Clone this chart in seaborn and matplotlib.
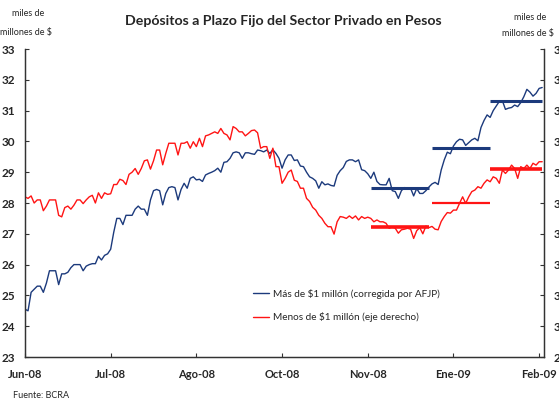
import numpy as np
import pandas as pd
import matplotlib
matplotlib.use("Agg")
import matplotlib.pyplot as plt
import seaborn as sns

# === DATA (miles de millones de $), one value per business day ===
tick_labels = ["Jun-08", "Jul-08", "Ago-08", "Oct-08", "Nov-08", "Ene-09", "Feb-09"]
tick_days = [0, 28, 56, 84, 112, 140, 168]

mas_1m = [
    24.55, 24.5, 25.1, 25.2, 25.3, 25.3, 25.1, 25.4, 25.8, 25.8,
    25.8, 25.35, 25.7, 25.7, 25.75, 25.9, 26.0, 26.0, 26.0, 25.8,
    25.95, 26.0, 26.03, 26.03, 26.27, 26.15, 26.3, 26.35, 26.5, 27.05,
    27.5, 27.5, 27.3, 27.6, 27.6, 27.6, 27.8, 27.9, 27.8, 27.8,
    27.6, 28.1, 28.4, 28.44, 28.4, 27.94, 28.31, 28.5, 28.53, 28.5,
    28.1, 28.44, 28.64, 28.48, 28.8, 28.85, 28.75, 28.77, 28.7, 28.91,
    28.96, 29.0, 29.05, 29.13, 29.0, 29.32, 29.34, 29.45, 29.63, 29.66,
    29.63, 29.45, 29.63, 29.63, 29.6, 29.58, 29.72, 29.7, 29.66, 29.72,
    29.61, 29.73, 29.61, 29.45, 29.13, 29.4, 29.56, 29.56, 29.38, 29.4,
    29.2, 29.18, 29.0, 28.85, 28.8, 28.72, 28.48, 28.69, 28.59, 28.62,
    28.57, 28.55, 28.9, 29.05, 29.15, 29.35, 29.4, 29.4, 29.34, 29.4,
    29.08, 29.05, 28.95, 28.8, 29.0, 28.7, 28.6, 28.59, 28.59, 28.8,
    28.4, 28.37, 28.15, 28.4, 28.5, 28.48, 28.48, 28.23, 28.47, 28.31,
    28.31, 28.4, 28.52, 28.62, 28.67, 28.6, 29.07, 29.4, 29.65, 29.6,
    29.85, 29.99, 30.07, 30.05, 29.87, 29.96, 30.05, 30.1, 30.02, 30.45,
    30.68, 30.86, 30.78, 31.0, 31.15, 31.3, 31.32, 31.04, 31.08, 31.1,
    31.18, 31.13, 31.26, 31.45, 31.69, 31.6, 31.47, 31.56, 31.72, 31.75,
]

menos_1m = [
    34.2, 34.15, 34.23, 34.0, 34.1, 34.1, 33.75, 33.9, 34.1, 34.1,
    34.1, 33.6, 33.55, 33.85, 33.9, 33.8, 33.93, 34.1, 34.1, 33.98,
    34.1, 34.2, 34.25, 34.0, 34.33, 34.15, 34.33, 34.28, 34.3, 34.6,
    34.6, 34.77, 34.73, 34.6, 34.93, 35.0, 35.12, 34.93, 35.12, 35.37,
    35.4, 35.1, 35.37, 35.72, 35.72, 35.24, 35.61, 35.94, 35.94, 35.94,
    35.56, 35.94, 35.94, 35.99, 35.78, 35.99, 35.83, 36.1, 35.83, 36.18,
    36.21, 36.26, 36.31, 36.26, 36.42, 36.26, 36.21, 36.05, 36.48, 36.42,
    36.31, 36.31, 36.18, 36.26, 36.35, 36.37, 36.28, 35.78, 35.83, 35.83,
    35.45, 35.78, 35.18, 35.18, 34.64, 34.8, 35.0, 35.07, 34.74, 34.7,
    34.48, 34.48, 34.15, 34.05, 33.86, 33.77, 33.6, 33.5, 33.34, 33.23,
    33.23, 32.99, 33.39, 33.56, 33.54, 33.5, 33.58, 33.5, 33.58, 33.45,
    33.56, 33.5, 33.54, 33.5, 33.39, 33.45, 33.39, 33.39, 33.34, 33.18,
    33.23, 33.18, 33.02, 33.13, 33.15, 33.18, 33.15, 32.85, 33.1, 33.2,
    33.0, 33.25, 33.2, 33.24, 33.15, 33.13, 33.4, 33.56, 33.69, 33.67,
    33.77, 33.77, 33.99, 34.2, 33.99, 34.2, 34.37, 34.42, 34.53, 34.48,
    34.64, 34.75, 34.69, 34.85, 34.8, 34.64, 35.07, 34.96, 35.07, 35.23,
    35.12, 34.8, 35.18, 35.12, 35.23, 35.12, 35.29, 35.23, 35.34, 35.34,
]

# period averages (start day, end day, level)
seg_start = [113, 133, 152]
seg_end = [132, 152, 169]
mas_prom = [28.5, 29.78, 31.31]
menos_prom = [33.21, 34.0, 35.11]

BLUE = "#1c3a7c"
RED = "#ff1414"

df = pd.DataFrame({"dia": np.arange(len(mas_1m)), "mas": mas_1m, "menos": menos_1m})

sns.set_style("ticks")
plt.rcParams["font.family"] = ["Lato", "DejaVu Sans"]

fig = plt.figure(figsize=(5.59, 4.0), dpi=100)
ax = fig.add_axes([0.0447, 0.1075, 0.9285, 0.77])
ax2 = ax.twinx()

sns.lineplot(data=df, x="dia", y="mas", ax=ax, color=BLUE, linewidth=1.0,
             label="Más de $1 millón (corregida por AFJP)")
sns.lineplot(data=df, x="dia", y="menos", ax=ax2, color=RED, linewidth=1.0,
             label="Menos de $1 millón (eje derecho)")

ax.hlines(mas_prom, seg_start, seg_end, color=BLUE, linewidth=2.2)
ax2.hlines(menos_prom, seg_start, seg_end, color=RED, linewidth=[2.6, 1.6, 2.6])

ax.set_xlim(0, 169.6)
ax.set_ylim(23, 33)
ax2.set_ylim(29, 39)
ax.set_yticks(range(23, 34))
ax2.set_yticks(range(29, 40))
ax.set_xticks(tick_days)
ax.set_xticklabels(tick_labels)
ax.set_xlabel("")
ax.set_ylabel("")
ax2.set_ylabel("")

for a in (ax, ax2):
    a.tick_params(direction="in", length=3, width=0.8, color="#333333", labelsize=8.5)
    for lab in a.get_xticklabels() + a.get_yticklabels():
        lab.set_fontweight("bold")
    for side in a.spines:
        a.spines[side].set_color("#333333")
        a.spines[side].set_linewidth(0.9)
    a.spines["top"].set_visible(False)
ax.tick_params(axis="x", pad=9, labelsize=8)
ax.tick_params(axis="y", pad=7)
ax2.tick_params(axis="y", pad=7)
ax.spines["right"].set_visible(True)
ax2.spines["left"].set_visible(True)

# legend
h1, l1 = ax.get_legend_handles_labels()
h2, l2 = ax2.get_legend_handles_labels()
if ax.get_legend():
    ax.get_legend().remove()
ax2.legend(h1 + h2, l1 + l2, loc="upper left", bbox_to_anchor=(0.44, 0.222),
           frameon=False, fontsize=7.2, handlelength=1.6, handletextpad=0.4,
           labelspacing=1.35, borderpad=0, borderaxespad=0)

# texts
fig.text(0.506, 0.948, "Depósitos a Plazo Fijo del Sector Privado en Pesos",
         ha="center", va="center", fontsize=10.2, fontweight="bold")
fig.text(0.05, 0.967, "miles de", ha="center", va="center", fontsize=6.5)
fig.text(0.0, 0.92, "millones de $", ha="left", va="center", fontsize=6.5)
fig.text(0.948, 0.955, "miles de", ha="center", va="center", fontsize=6.5)
fig.text(0.898, 0.917, "millones de $", ha="left", va="center", fontsize=6.5)
fig.text(0.023, 0.012, "Fuente: BCRA", ha="left", va="center", fontsize=6.5)

fig.savefig("out.png", dpi=100)
